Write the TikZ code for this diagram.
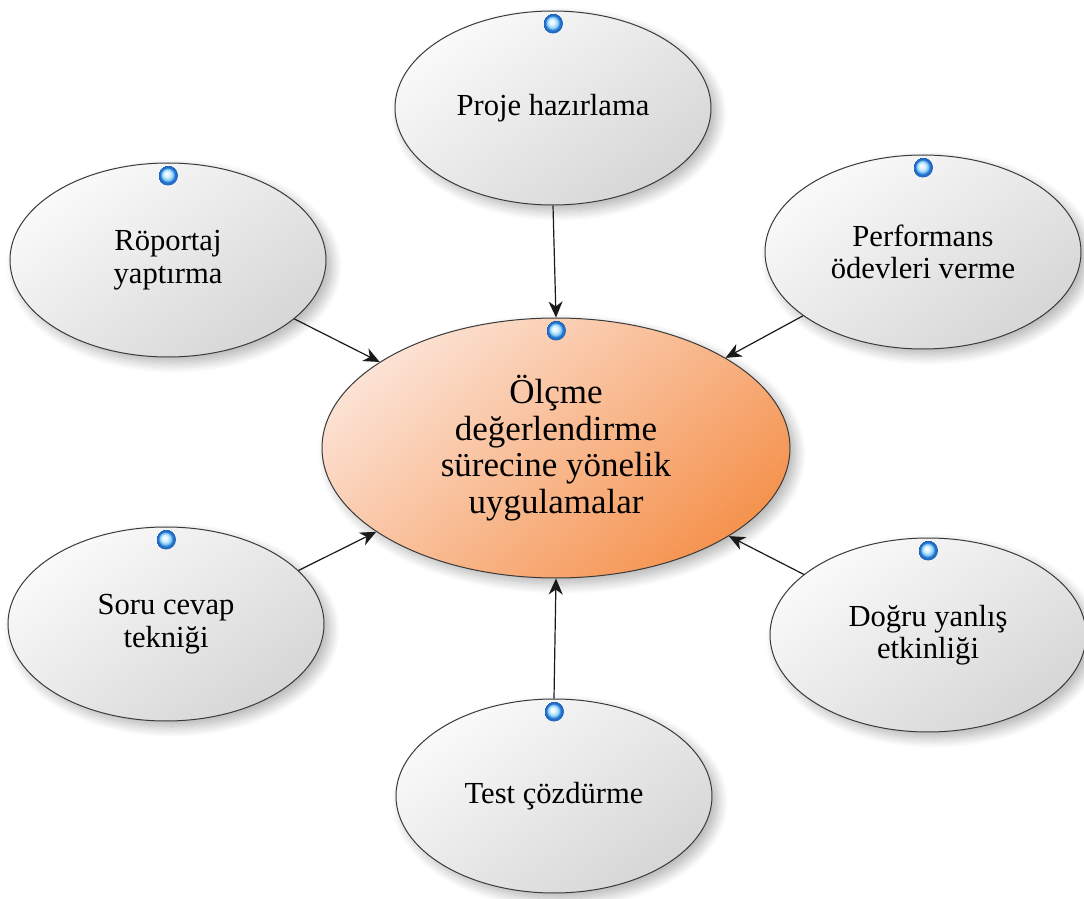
\documentclass[tikz,border=0pt]{standalone}
\usepackage{fontspec}
\setmainfont{Liberation Serif}
\usetikzlibrary{shapes.geometric,arrows.meta,calc,shadows.blur}

\definecolor{rim}{HTML}{3A3A3A}
\definecolor{grayhi}{HTML}{FAFAFA}
\definecolor{graylo}{HTML}{D6D6D6}
\definecolor{peachhi}{HTML}{FCE2D4}
\definecolor{peachlo}{HTML}{F5934F}
\definecolor{pinlight}{HTML}{DDF3FF}
\definecolor{pinmid}{HTML}{86CBF6}
\definecolor{pinrim}{HTML}{2574D2}

% glossy connection pin: light centre, blue ring
\pgfdeclareradialshading{pinshade}{\pgfpoint{-4bp}{5bp}}{%
  color(0bp)=(white); color(7bp)=(pinlight); color(14bp)=(pinmid);
  color(18bp)=(pinrim); color(25bp)=(pinrim!85!black)}

\begin{document}
\begin{tikzpicture}[x=0.5pt,y=-0.5pt,
  soft/.style={blur shadow={shadow xshift=3pt,shadow yshift=-3pt,
      shadow blur radius=5pt,shadow blur steps=12,shadow opacity=30}},
  topic/.style={ellipse,draw=rim,line width=0.5pt,inner sep=0pt,
      minimum width=158pt,minimum height=97pt,align=center,
      font=\fontsize{15.3}{16.3}\selectfont,text=black,
      top color=grayhi,bottom color=graylo,shading angle=35,soft},
  hub/.style={ellipse,draw=rim,line width=0.5pt,inner sep=0pt,
      minimum width=234pt,minimum height=130pt,align=center,
      font=\fontsize{17.5}{18.35}\selectfont,text=black,
      top color=peachhi,bottom color=peachlo,shading angle=40,soft},
  link/.style={-{Stealth[length=8pt,width=7pt,inset=2.5pt]},
      line width=0.6pt,draw=black!90},
  pin/.style={circle,inner sep=0pt,minimum size=10pt,shading=pinshade}]

\useasboundingbox (0,0) rectangle (1084,899);

% hub and surrounding activities
\node[hub]   (main)  at (556,448) {Ölçme\\değerlendirme\\sürecine yönelik\\uygulamalar};
\node[topic] (proje) at (553,108) {Proje hazırlama};
\node[topic] (rop)   at (168,260) {Röportaj\\yaptırma};
\node[topic] (perf)  at (923,252) {Performans\\ödevleri verme};
\node[topic] (soru)  at (166,624) {Soru cevap\\tekniği};
\node[topic] (dogru) at (928,635) {Doğru yanlış\\etkinliği};
\node[topic] (test)  at (554,796) {Test çözdürme};

% connectors into the hub
\draw[link] (proje.south) -- (main.north);
\draw[link] (rop.-25.7)   -- (main.154.3);
\draw[link] (perf.-152.9) -- (main.28.8);
\draw[link] (soru.22.8)   -- (main.-155.1);
\draw[link] (dogru.154.4) -- (main.-27.4);
\draw[link] (test.north)  -- (main.south);

% connection pins
\foreach \n in {main,proje,rop,perf,soru,dogru,test}
  \node[pin] (\n-pin) at ($(\n.north)+(0,13)$) {};
\end{tikzpicture}
\end{document}
